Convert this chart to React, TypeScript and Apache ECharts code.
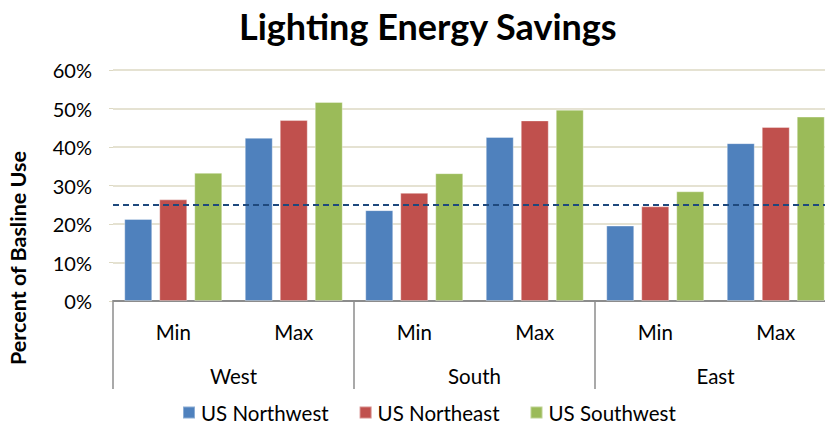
import React, { useEffect, useRef } from "react";
import * as echarts from "echarts";

const innerCategories = ["Min", "Max", "Min", "Max", "Min", "Max"];
const groupCategories = ["West", "South", "East"];
const seriesNames = ["US Northwest", "US Northeast", "US Southwest"];
const northwest = [0.213, 0.424, 0.236, 0.426, 0.196, 0.41];
const northeast = [0.264, 0.47, 0.281, 0.469, 0.246, 0.452];
const southwest = [0.333, 0.517, 0.332, 0.497, 0.285, 0.479];
const baselineValue = 0.252;
const yTicks = [0, 0.1, 0.2, 0.3, 0.4, 0.5, 0.6];
const colors = ["#4f81bd", "#c0504d", "#9bbb59"];

const FONT = "Lato, 'Open Sans', sans-serif";

export default function App() {
  const ref = useRef<HTMLDivElement>(null);
  useEffect(() => {
    if (!ref.current) return;
    const chart = echarts.init(ref.current, null, { renderer: "svg" });
    const values = [northwest, northeast, southwest];
    chart.setOption({
      animation: false,
      backgroundColor: "#ffffff",
      textStyle: { fontFamily: FONT },
      title: {
        text: "Lighting Energy Savings",
        left: 234,
        top: 3,
        textStyle: { fontFamily: FONT, fontSize: 36, fontWeight: "bold", color: "#000" },
      },
      legend: {
        bottom: 0,
        left: 177,
        itemWidth: 12,
        itemHeight: 12,
        itemGap: 30,
        icon: "rect",
        textStyle: { fontFamily: FONT, fontSize: 20.5, color: "#000", padding: [0, 0, 0, 1] },
        data: seriesNames,
      },
      grid: {
        left: 113,
        top: 70,
        width: 723,
        height: 231,
        containLabel: false,
        outerBoundsMode: "none",
      },
      xAxis: [
        {
          type: "category",
          data: innerCategories,
          position: "bottom",
          axisLine: { show: true, lineStyle: { color: "#8c8c8c", width: 2 } },
          axisTick: { show: false },
          axisLabel: { fontFamily: FONT, fontSize: 20.5, color: "#000", margin: 20 },
        },
        {
          type: "category",
          data: groupCategories,
          position: "bottom",
          axisLine: { show: false },
          axisTick: { show: true, length: 88, lineStyle: { color: "#8c8c8c", width: 1.5 } },
          axisLabel: { fontFamily: FONT, fontSize: 20.5, color: "#000", margin: 64 },
        },
      ],
      yAxis: {
        type: "value",
        min: yTicks[0],
        max: yTicks[yTicks.length - 1],
        interval: 0.1,
        axisLine: { show: false },
        axisTick: { show: true, length: 4, lineStyle: { color: "#ddd9c3" } },
        splitLine: { show: true, lineStyle: { color: "#ddd9c3", width: 1.5 } },
        axisLabel: {
          fontFamily: FONT,
          fontSize: 20,
          color: "#000",
          margin: 21,
          formatter: (v: number) => `${Math.round(v * 100)}%`,
        },
      },
      graphic: [
        {
          type: "text",
          x: 18,
          y: 258,
          rotation: Math.PI / 2,
          style: {
            text: "Percent of Basline Use",
            fontFamily: FONT,
            fontSize: 21.5,
            fontWeight: "bold",
            fill: "#000",
            textAlign: "center",
            textVerticalAlign: "middle",
          },
        },
      ],
      series: seriesNames.map((name, i) => ({
        name,
        type: "bar",
        xAxisIndex: 0,
        data: values[i],
        barWidth: 28,
        barGap: "25%",
        itemStyle: {
          color: colors[i],
          borderColor: "rgba(255,255,255,0.35)",
          borderWidth: 1,
        },
        markLine:
          i === 0
            ? {
                silent: true,
                symbol: "none",
                label: { show: false },
                lineStyle: { color: "#1f497d", type: [6, 4], width: 2 },
                data: [{ yAxis: baselineValue }],
              }
            : undefined,
      })),
    });
    return () => chart.dispose();
  }, []);
  return (
    <div
      ref={ref}
      style={{ position: "fixed", left: 0, top: 0, width: 825, height: 428 }}
    />
  );
}
